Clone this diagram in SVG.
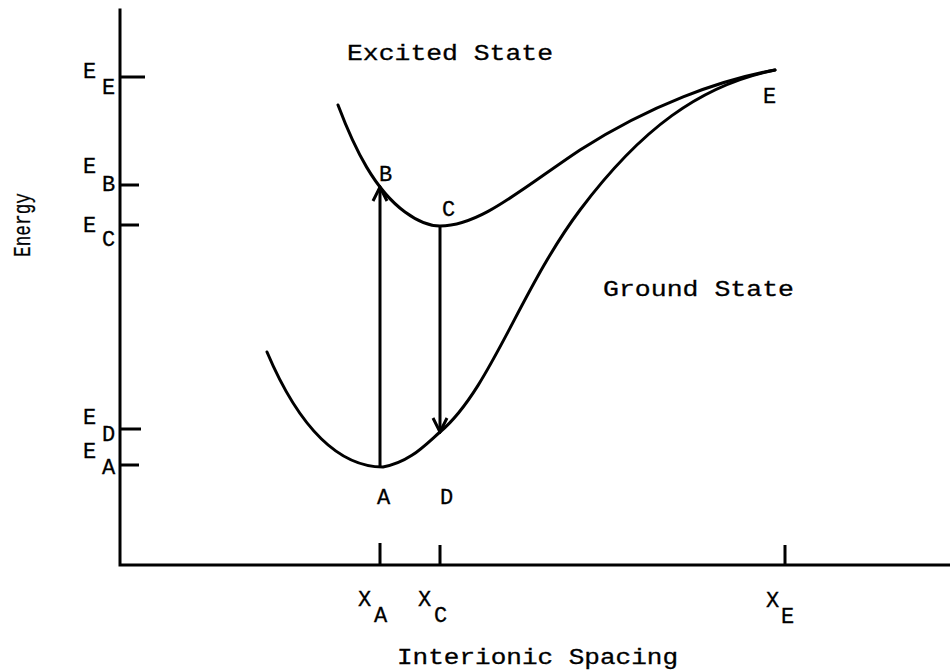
<svg xmlns="http://www.w3.org/2000/svg" width="950" height="670" viewBox="0 0 950 670">
<style>
.ax{stroke:#000;stroke-width:3;fill:none;stroke-linecap:square}
.tk{stroke:#000;stroke-width:3;fill:none}
.cv{stroke:#000;stroke-width:3;fill:none;stroke-linecap:round}
.ar{stroke:#000;stroke-width:3;fill:none}
.t{font-family:"Liberation Mono","DejaVu Sans Mono",monospace;fill:#000;font-size:22px;stroke:#000;stroke-width:0.3}
.s{font-family:"Liberation Mono","DejaVu Sans Mono",monospace;fill:#000;font-size:22px;stroke:#000;stroke-width:0.3}
.e{font-family:"Liberation Mono","DejaVu Sans Mono",monospace;fill:#000;font-size:24px;stroke:#000;stroke-width:0.3}
</style>
<defs>
<marker id="ah" viewBox="0 0 18 18" refX="16" refY="9" markerWidth="18" markerHeight="18" markerUnits="userSpaceOnUse" orient="auto">
<path d="M2,2 L16,9 L2,16" fill="none" stroke="#000" stroke-width="3"/>
</marker>
</defs>
<g id="axes">
<path class="ax" d="M120,10 L120,565 L950,565"/>
<path class="tk" d="M120,77 L145,77 M120,185 L139,185 M120,225 L139,225 M120,429 L141,429 M120,465 L139,465"/>
<path class="tk" d="M380,543 L380,565 M440,545 L440,565 M785,545 L785,565"/>
</g>
<g id="labels">
<text class="s" x="83" y="78">E</text><text class="s" x="102" y="94">E</text>
<text class="s" x="83" y="173">E</text><text class="s" x="102" y="191">B</text>
<text class="s" x="83" y="232">E</text><text class="s" x="102" y="246">C</text>
<text class="s" x="83" y="424">E</text><text class="s" x="102" y="441">D</text>
<text class="s" x="83" y="458">E</text><text class="s" x="102" y="474">A</text>
<text class="s" x="358" y="606">X</text><text class="s" x="374" y="622">A</text>
<text class="s" x="418" y="606">X</text><text class="s" x="434" y="622">C</text>
<text class="s" x="766" y="607">X</text><text class="s" x="781" y="623">E</text>
<text class="t" x="397" y="664" textLength="281" lengthAdjust="spacingAndGlyphs">Interionic Spacing</text>
<text class="t" x="347" y="60" textLength="206" lengthAdjust="spacingAndGlyphs">Excited State</text>
<text class="t" x="603" y="296" textLength="191" lengthAdjust="spacingAndGlyphs">Ground State</text>
<text class="e" transform="translate(30,257) rotate(-90)" textLength="64" lengthAdjust="spacingAndGlyphs">Energy</text>
</g>
<g id="ground-state">
<path class="cv" d="M267,352 C300,430 340,467 383,467 C410,462 425,445 440,432 C490,390 520,290 580,210 C640,130 700,85 775,70"/>
</g>
<g id="excited-state">
<path class="cv" d="M338,105 C355,150 375,190 405,212 C420,223 430,226 440,226 C480,226 520,190 580,150 C650,105 720,80 775,70"/>
</g>
<g id="points">
<text class="s" x="379" y="181">B</text>
<text class="s" x="442" y="216">C</text>
<text class="s" x="377" y="504">A</text>
<text class="s" x="440" y="504">D</text>
<text class="s" x="763" y="103">E</text>
</g>
<g id="connectors">
<path class="ar" d="M380,467 L380,187" marker-end="url(#ah)"/>
<path class="ar" d="M440,226 L440,432" marker-end="url(#ah)"/>
</g>
</svg>
